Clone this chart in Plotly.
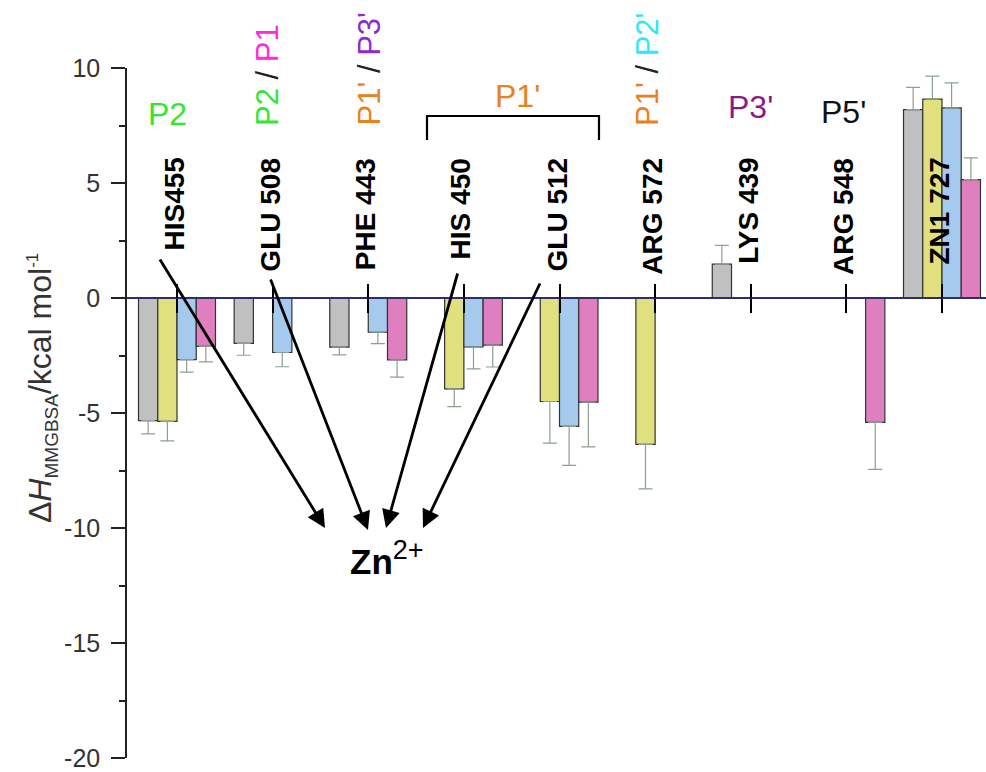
import plotly.graph_objects as go

# ---------------- data ----------------
residues = ["HIS455", "GLU 508", "PHE 443", "HIS 450", "GLU 512",
            "ARG 572", "LYS 439", "ARG 548", "ZN1 727"]
gray_vals = [-5.33, -1.97, -2.14, None, None, None, 1.47, None, 8.19]
gray_err = [0.58, 0.52, 0.33, 0, 0, 0, 0.82, 0, 0.97]
yellow_vals = [-5.36, None, None, -3.95, -4.50, -6.36, None, None, 8.65]
yellow_err = [0.85, 0, 0, 0.77, 1.81, 1.94, 0, 0, 1.00]
blue_vals = [-2.68, -2.37, -1.49, -2.13, -5.58, None, None, None, 8.27]
blue_err = [0.54, 0.62, 0.49, 0.95, 1.70, 0, 0, 0, 1.08]
pink_vals = [-2.10, None, -2.69, -2.05, -4.53, None, None, -5.41, 5.15]
pink_err = [0.68, 0, 0.75, 0.95, 1.94, 0, 0, 2.04, 0.94]
y_ticks = [-20, -15, -10, -5, 0, 5, 10]
y_tick_labels = ["-20", "-15", "-10", "-5", "0", "5", "10"]
y_minor = [-17.5, -12.5, -7.5, -2.5, 2.5, 7.5]

positions = list(range(len(residues)))

# ---------------- geometry helpers (pixel -> data) ----------------
W, H = 986, 772
L, R, T, B = 127, 0, 68, 14
X0PX, DXPX = 177.0, 95.625
Y_LO, Y_HI = -20, 10
PPU = (H - T - B) / (Y_HI - Y_LO)
Y0PX = T + Y_HI * PPU


def dx(px):
    return (px - X0PX) / DXPX


def dy(py):
    return (Y0PX - py) / PPU


FONT = "Liberation Sans, Arial, sans-serif"


def split_err(vals, errs):
    plus, minus = [], []
    for v, e in zip(vals, errs):
        if v is None:
            plus.append(0)
            minus.append(0)
        elif v >= 0:
            plus.append(e)
            minus.append(0)
        else:
            plus.append(0)
            minus.append(e)
    return plus, minus


series = [
    (gray_vals, gray_err, "#c0c0c0", "#9a9a9a"),
    (yellow_vals, yellow_err, "#e0e07e", "#8aa08e"),
    (blue_vals, blue_err, "#a6c9ee", "#8aa08e"),
    (pink_vals, pink_err, "#e07fc0", "#8aa08e"),
]

fig = go.Figure()
for vals, errs, col, ecol in series:
    plus, minus = split_err(vals, errs)
    fig.add_trace(go.Bar(
        x=positions, y=vals,
        marker=dict(color=col, line=dict(color="#333333", width=1.2)),
        error_y=dict(type="data", symmetric=False, array=plus, arrayminus=minus,
                     color=ecol, thickness=1.2, width=7),
        showlegend=False, hoverinfo="skip",
    ))

# helper invisible trace to host the second x axis (upward ticks)
fig.add_trace(go.Scatter(x=positions, y=[None] * len(positions), xaxis="x2",
                         mode="markers", showlegend=False, hoverinfo="skip"))

annotations = []
# residue labels
for i, r in enumerate(residues):
    annotations.append(dict(
        text=f"<b>{r}</b>", x=i, y=dy(156), xref="x", yref="y",
        textangle=-90, xanchor="center", yanchor="top", xshift=-3,
        showarrow=False, font=dict(family=FONT, size=28, color="black")))

GREEN, MAGENTA, ORANGE, VIOLET, CYAN, PURPLE = (
    "#33e633", "#ff2bd6", "#e8821e", "#8a2bd0", "#2ee8f5", "#8b1a89")
SL = '<span style="color:#222222"> / </span>'


def sp(t, c):
    return f'<span style="color:{c}">{t}</span>'


# horizontal P labels
for txt, px, py, col in [("P2", 167.5, 114, GREEN), ("P1'", 517, 96, ORANGE),
                         ("P3'", 750, 107, PURPLE), ("P5'", 843, 112, "#111111")]:
    annotations.append(dict(
        text=txt, x=dx(px), y=dy(py), xref="x", yref="y",
        xanchor="center", yanchor="middle", showarrow=False,
        font=dict(family=FONT, size=32, color=col)))

# rotated P labels
for txt, px in [(sp("P2", GREEN) + SL + sp("P1", MAGENTA), 267),
                (sp("P1'", ORANGE) + SL + sp("P3'", VIOLET), 368.5),
                (sp("P1'", ORANGE) + SL + sp("P2'", CYAN), 647)]:
    annotations.append(dict(
        text=txt, x=dx(px), y=dy(128), xref="x", yref="y",
        textangle=-90, xanchor="center", yanchor="bottom",
        showarrow=False, font=dict(family=FONT, size=31)))

# arrows toward Zn2+
for (tx, ty), (hx, hy) in [((159, 258), (325, 528)), ((270, 278), (368, 530)),
                           ((458, 272), (386, 528)), ((540.7, 282), (423, 528))]:
    annotations.append(dict(
        x=dx(hx), y=dy(hy), ax=dx(tx), ay=dy(ty),
        xref="x", yref="y", axref="x", ayref="y", text="",
        showarrow=True, arrowhead=2, arrowsize=1.3, arrowwidth=2.8,
        arrowcolor="black", standoff=0))

annotations.append(dict(
    text='<b>Zn</b><sup><span style="font-size:27px">2+</span></sup>',
    x=dx(387), y=dy(558), xref="x", yref="y",
    xanchor="center", yanchor="middle", showarrow=False,
    font=dict(family=FONT, size=35, color="black")))

# y-axis title (position given in pixels, converted to paper)
TITLE_X, TITLE_Y = 42, 388
annotations.append(dict(
    text='Δ<i>H</i><sub><span style="font-size:19px">MMGBSA</span></sub>'
         '/kcal mol<sup><span style="font-size:17px">-1</span></sup>',
    x=(TITLE_X - L) / (W - L - R), y=(H - B - TITLE_Y) / (H - T - B),
    xref="paper", yref="paper",
    textangle=-90, showarrow=False, xanchor="center", yanchor="middle",
    font=dict(family=FONT, size=32, color="#333333")))

shapes = [dict(
    type="path", xref="x", yref="y",
    path=f"M {dx(427)},{dy(140)} L {dx(427)},{dy(116)} L {dx(599)},{dy(116)} L {dx(599)},{dy(140)}",
    line=dict(color="black", width=2.2))]

x_range = [dx(L), dx(W - R)]
zero_pos = (0 - Y_LO) / (Y_HI - Y_LO)

fig.update_layout(
    width=W, height=H,
    margin=dict(l=L, r=R, t=T, b=B, pad=0, autoexpand=False),
    paper_bgcolor="white", plot_bgcolor="white",
    barmode="group", bargap=0.195, bargroupgap=0,
    font=dict(family=FONT),
    xaxis=dict(range=x_range, tickvals=positions, showticklabels=False,
               ticks="outside", ticklen=14, tickwidth=2, tickcolor="black",
               showline=True, linecolor="#2e2e6e", linewidth=1.5,
               anchor="free", position=zero_pos, showgrid=False, zeroline=False,
               automargin=False),
    xaxis2=dict(range=x_range, overlaying="x", matches="x", tickvals=positions,
                showticklabels=False, ticks="inside", ticklen=14, tickwidth=2,
                tickcolor="black", showline=False, anchor="free",
                position=zero_pos, showgrid=False, zeroline=False,
                automargin=False),
    yaxis=dict(range=[Y_LO, Y_HI], tickvals=y_ticks, ticktext=y_tick_labels,
               ticks="outside",
               ticklen=14, tickwidth=1.5, tickcolor="#222222",
               showline=True, linecolor="#222222", linewidth=1.5,
               minor=dict(tickvals=y_minor, ticks="outside", ticklen=6,
                          tickwidth=1.5, tickcolor="#222222"),
               tickfont=dict(family=FONT, size=25, color="#333333"),
               ticklabelstandoff=6, ticklabeloverflow="allow",
               showgrid=False, zeroline=False, automargin=False),
    annotations=annotations,
    shapes=shapes,
)

fig.write_html("out.html")
